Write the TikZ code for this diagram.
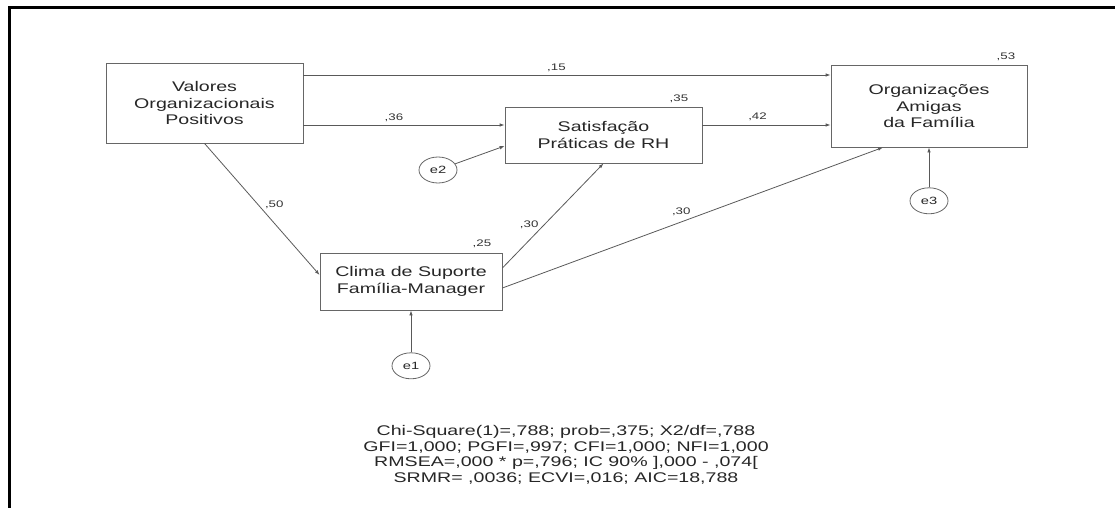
\documentclass[tikz,border=0pt]{standalone}
\usepackage{fontspec}
\setmainfont{Liberation Sans}[FakeStretch=1.4]
\usetikzlibrary{positioning, arrows.meta, shapes.geometric}

\begin{document}
\begin{tikzpicture}[
    x=1pt, y=-1pt,
    var/.style={draw=black!60, line width=0.8pt, rectangle, align=center, text=black!85, inner sep=0pt, font=\fontsize{14}{16.5}\selectfont},
    err/.style={draw=black!60, line width=0.8pt, ellipse, minimum width=38pt, minimum height=26pt, inner sep=0pt, text=black!85, font=\fontsize{10.5}{12}\selectfont},
    arr/.style={-{Latex[length=5pt,width=3.5pt]}, draw=black!65, line width=0.8pt},
    coef/.style={inner sep=1pt, text=black!80, font=\fontsize{9.5}{11}\selectfont},
    rsq/.style={coef, anchor=south east}
]
    \useasboundingbox (0,0) rectangle (1115,508);
    \draw[line width=3pt] (9.5,508) -- (9.5,8) -- (1115,8);

    % observed variables
    \node[var, minimum width=197pt, minimum height=80pt] (valores) at (204.5,103) {Valores\\Organizacionais\\Positivos};
    \node[var, minimum width=197pt, minimum height=56pt] (satis) at (603.5,135) {Satisfação\\Práticas de RH};
    \node[var, minimum width=196pt, minimum height=82pt] (orgs) at (929,106) {Organizações\\Amigas\\da Família};
    \node[var, minimum width=182pt, minimum height=57pt] (clima) at (411,281.5) {Clima de Suporte\\Família-Manager};

    % residuals
    \node[err] (e1) [below=42pt of clima] {e1};
    \node[err] (e2) at (438,170) {e2};
    \node[err] (e3) [below=40pt of orgs] {e3};

    % squared multiple correlations
    \node[rsq] (r2clima) at ([xshift=-10pt,yshift=4pt]clima.north east) {,25};
    \node[rsq] (r2satis) at ([xshift=-13pt,yshift=3pt]satis.north east) {,35};
    \node[rsq] (r2orgs) at ([xshift=-11pt,yshift=3pt]orgs.north east) {,53};

    % paths
    \coordinate (v15) at ([yshift=28pt]valores.east);
    \coordinate (v36) at ([yshift=-22pt]valores.east);
    \coordinate (s42) at ([yshift=10pt]satis.east);
    \draw[arr] (v15) -- node[coef, pos=0.48, above=2pt] {,15} (v15 -| orgs.west);
    \draw[arr] (v36) -- node[coef, pos=0.45, above=2pt] {,36} (v36 -| satis.west);
    \draw[arr] (s42) -- node[coef, pos=0.43, above=3pt] {,42} (s42 -| orgs.west);
    \draw[arr] (valores.south) -- node[coef, pos=0.47, right=5pt] {,50} ([yshift=6.5pt]clima.west);
    \draw[arr] ([yshift=13.5pt]clima.east) -- node[coef, pos=0.41, left=4pt] {,30} (satis.south);
    \draw[arr] ([yshift=-6.5pt]clima.east) -- node[coef, pos=0.47, above=5pt] {,30} ([xshift=-46pt]orgs.south);
    \draw[arr] (e1) -- (clima.south);
    \draw[arr] (e2) -- ([yshift=-11pt]satis.west);
    \draw[arr] (e3) -- (orgs.south);

    % fit indices
    \node[align=center, text=black!85, font=\fontsize{14}{15.5}\selectfont] (fitidx) at (566,455) {Chi-Square(1)=,788; prob=,375; X2/df=,788\\GFI=1,000; PGFI=,997; CFI=1,000; NFI=1,000\\RMSEA=,000 * p=,796; IC 90\% ],000 - ,074[\\SRMR= ,0036; ECVI=,016; AIC=18,788};
\end{tikzpicture}
\end{document}
